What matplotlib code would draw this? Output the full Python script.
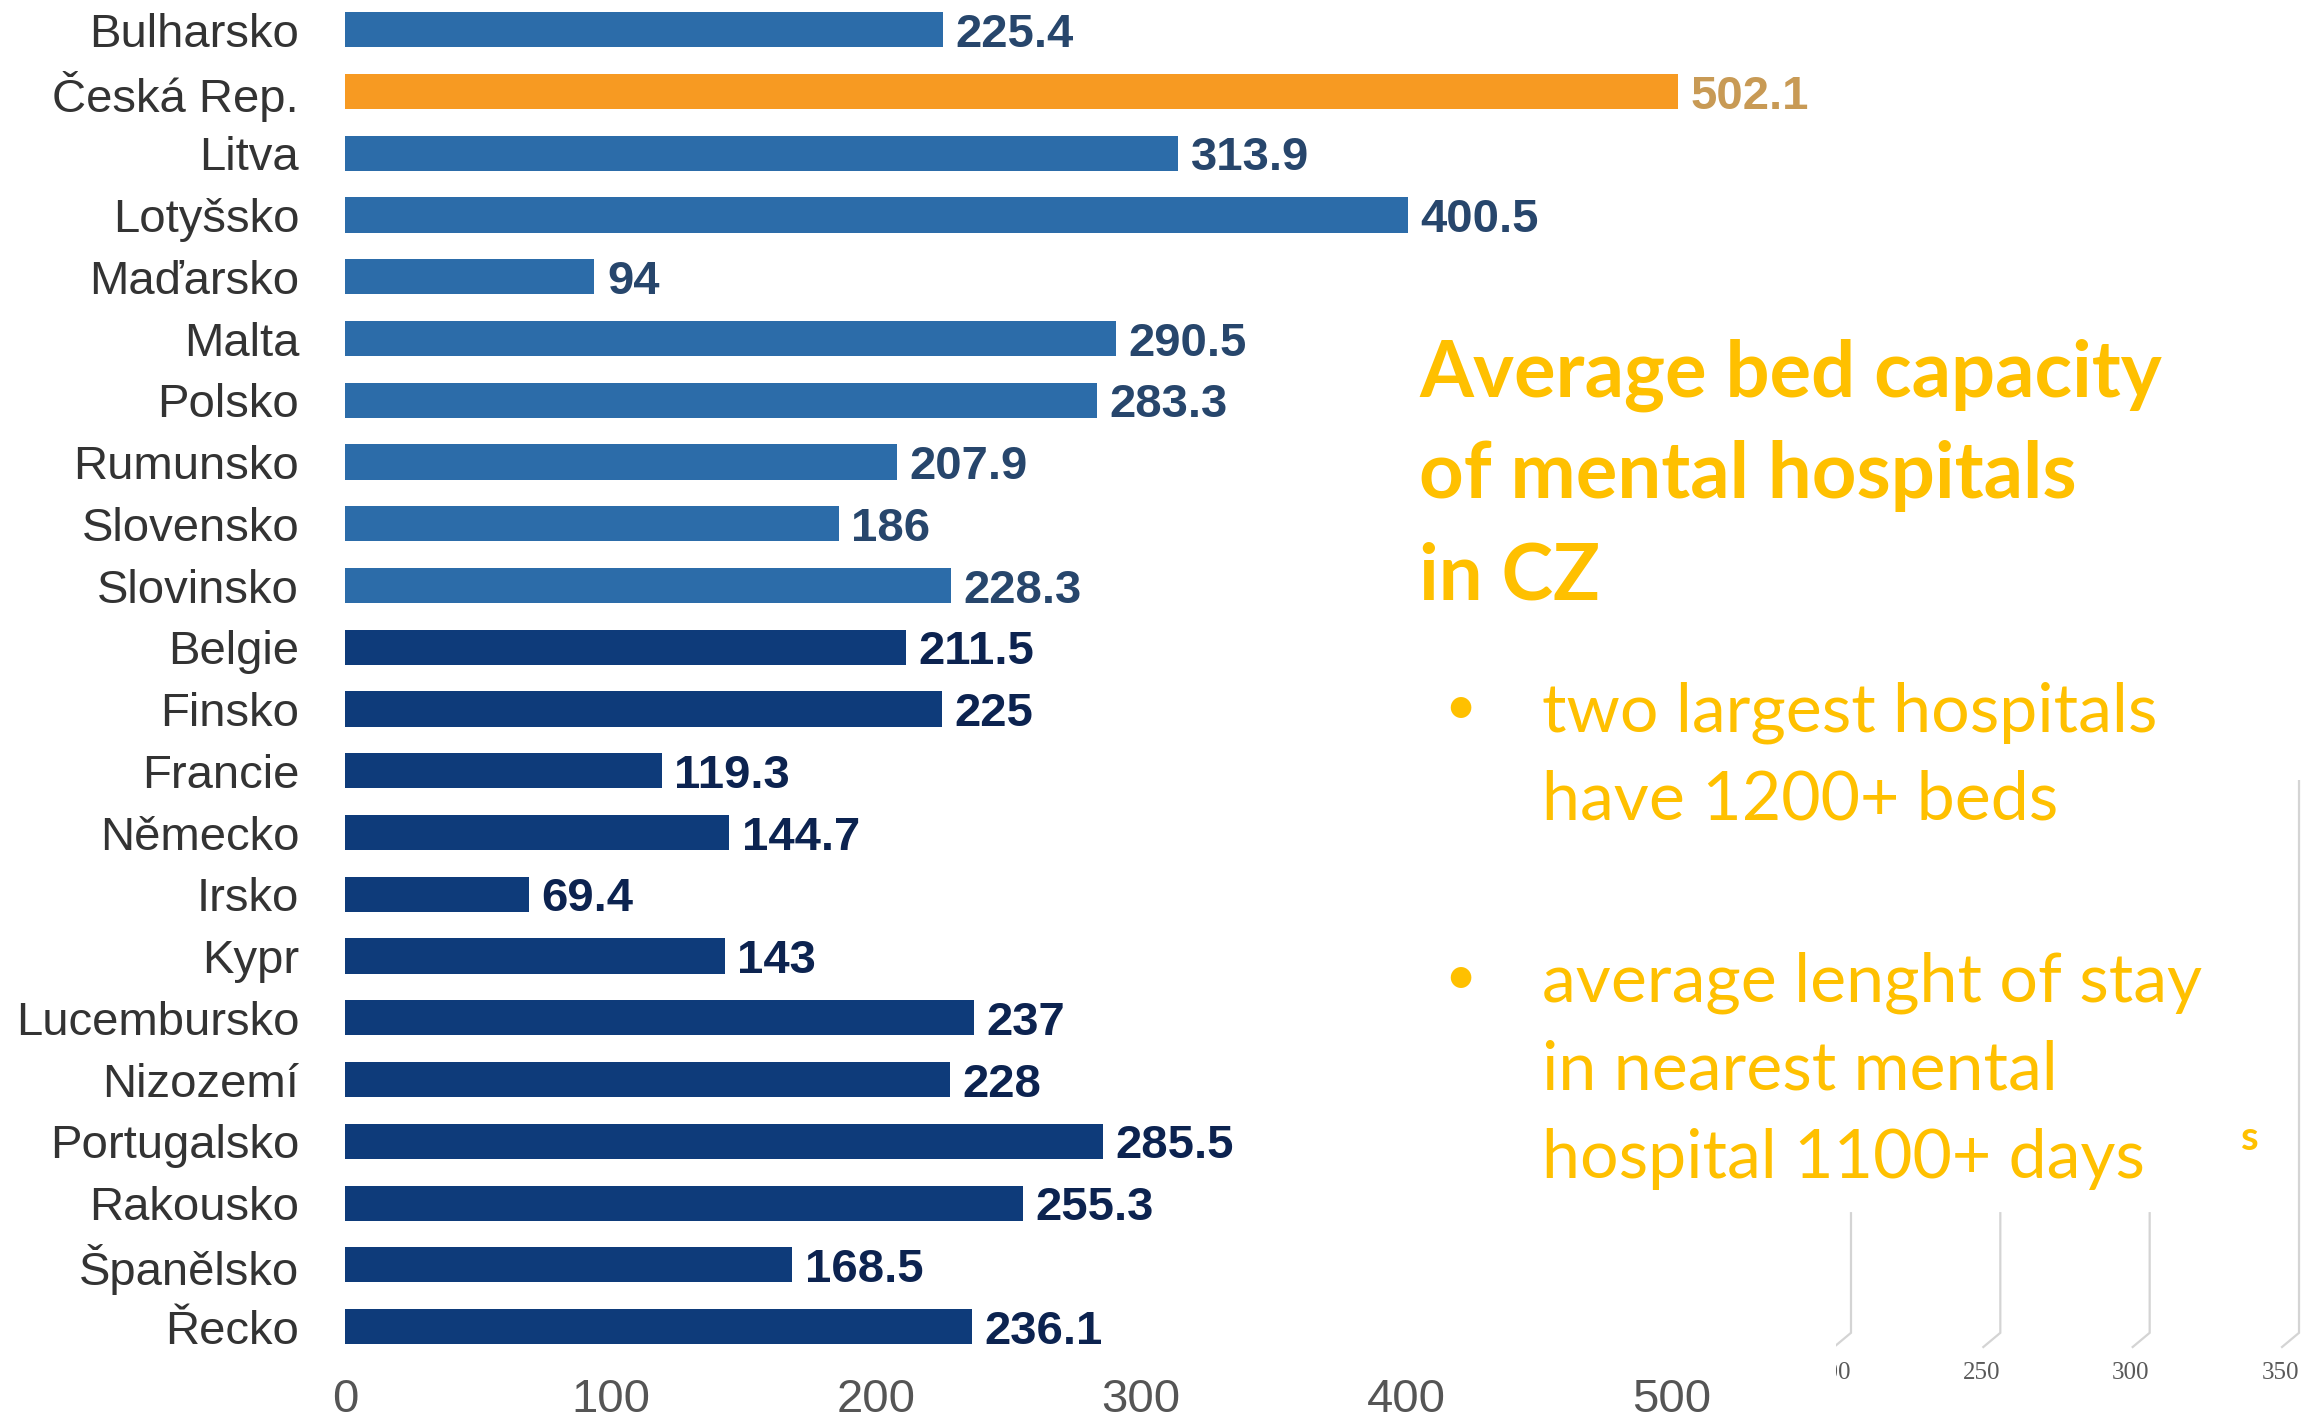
import matplotlib
matplotlib.use('Agg')
import matplotlib.pyplot as plt

# data
countries = ['Bulharsko', 'Česká Rep.', 'Litva', 'Lotyšsko', 'Maďarsko', 'Malta', 'Polsko',
             'Rumunsko', 'Slovensko', 'Slovinsko', 'Belgie', 'Finsko', 'Francie', 'Německo',
             'Irsko', 'Kypr', 'Lucembursko', 'Nizozemí', 'Portugalsko', 'Rakousko',
             'Španělsko', 'Řecko']
values = [225.4, 502.1, 313.9, 400.5, 94, 290.5, 283.3, 207.9, 186, 228.3,
          211.5, 225, 119.3, 144.7, 69.4, 143, 237, 228, 285.5, 255.3, 168.5, 236.1]
n_new = 10          # first 10 = newer member states
highlight = 'Česká Rep.'
xticks = [0, 100, 200, 300, 400, 500]

title_lines = ['Average bed capacity', 'of mental hospitals', 'in CZ']
bullet1 = ['two largest hospitals', 'have 1200+ beds']
bullet2 = ['average lenght of stay', 'in nearest mental', 'hospital 1100+ days']

# leftover axis fragment in the lower right corner
frag_ticks = [200, 250, 300, 350]
frag_tops = [0.236, 0.236, 0.236, 1.0]

W, H = 2310, 1417
fig = plt.figure(figsize=(W / 100, H / 100), dpi=100)

def fx(px):
    return px / W

def fy(py):
    return 1 - py / H

blue = '#2c6ca9'
navy = '#0e3b7a'
orange = '#f79a22'
gold = '#ffc000'

ax = fig.add_axes([fx(345), fy(1357.5), fx(1672) - fx(345), 1358.6 / H])
colors = []
lab_colors = []
for i, c in enumerate(countries):
    if c == highlight:
        colors.append(orange)
        lab_colors.append('#c89a55')
    elif i < n_new:
        colors.append(blue)
        lab_colors.append('#27466c')
    else:
        colors.append(navy)
        lab_colors.append('#0c2350')

ypos = list(range(len(countries)))
ax.barh(ypos, values, height=0.57, color=colors, clip_on=False)
for y, v, lc in zip(ypos, values, lab_colors):
    ax.annotate('{:g}'.format(v), (v, y), xytext=(9, 0), textcoords='offset points',
                va='center_baseline', ha='left', fontsize=34, fontweight='bold', color=lc,
                family='Liberation Sans', annotation_clip=False)

ax.set_ylim(len(countries) - 0.5, -0.5)
ax.set_xlim(0, 500)
ax.set_yticks(ypos)
ax.set_yticklabels(countries, family='Liberation Sans', fontsize=34, color='#333333')
ax.set_xticks(xticks)
ax.set_xticklabels([str(t) for t in xticks], family='Liberation Sans', fontsize=34,
                   color='#555555')
ax.tick_params(axis='y', length=0, pad=33)
ax.tick_params(axis='x', length=0, pad=15)
for s in ax.spines.values():
    s.set_visible(False)
ax.patch.set_alpha(0)

# right-hand text block
for k, line in enumerate(title_lines):
    fig.text(fx(1419), fy(397 + k * 101), line, family='Lato', fontweight='bold',
             fontsize=56, color=gold, va='baseline', ha='left')

for block, y0 in ((bullet1, 732), (bullet2, 1002)):
    fig.text(fx(1444), fy(y0 - 8), '•', family='Lato', fontsize=40, color=gold,
             va='baseline', ha='left')
    for k, line in enumerate(block):
        fig.text(fx(1542), fy(y0 + k * 88), line, family='Lato', fontsize=49,
                 color=gold, va='baseline', ha='left')

fig.text(fx(2241), fy(1150), 's', family='Lato', fontweight='bold', fontsize=29,
         color=gold, va='baseline', ha='left')

# fragment of another chart's axis (left part clipped, as in the source image)
left_px, top_px, base_px = 1836, 780, 1347
unit = 50 / 149.5          # data units per pixel
ax2 = fig.add_axes([fx(left_px), 0, fx(W) - fx(left_px), fy(top_px)])
ax2.set_xlim(200 - (1851 - left_px) * unit, 350 + (W - 2299) * unit)
ax2.set_ylim(-(H - base_px) / 567, (base_px - top_px) / 567)
dx = 17 * unit
for t, top in zip(frag_ticks, frag_tops):
    ax2.plot([t, t, t - dx], [top, 0.025, 0.0], color='#d4d4d4', lw=1.6,
             solid_joinstyle='miter')
    ax2.text(t, -26 / 567, str(t), family='Liberation Serif', fontsize=18,
             color='#595959', ha='right', va='center', clip_on=True)
ax2.set_xticks([])
ax2.set_yticks([])
for s in ax2.spines.values():
    s.set_visible(False)
ax2.patch.set_alpha(0)

fig.savefig('out.png', dpi=100)
